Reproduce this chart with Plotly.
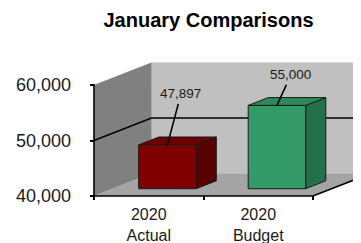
import plotly.graph_objects as go

# ---- data ----
categories = ["2020<br>Actual", "2020<br>Budget"]
values = [47897, 55000]
value_labels = ["47,897", "55,000"]
y_ticks = [40000, 50000, 60000]

# ---- pseudo-3D geometry (in axis units) ----
Y0, Y1 = 40000, 60000
DX, DY = 0.525, 4050          # depth offset of the back wall
BAR_W = 0.525
F_FRONT, F_BACK = 0.325, 0.675
FONT = "Liberation Sans, Arial, sans-serif"
PAGE_OFFSET = 8               # browser default body margin

face = dict(front=["#800000", "#339966"], top=["#6c0000", "#2c8a5a"], side=["#560000", "#23704a"])

fig = go.Figure()

def poly(xs, ys, fill, line_color=None, width=1):
    fig.add_trace(go.Scatter(
        x=xs + [xs[0]], y=ys + [ys[0]], mode="lines", fill="toself",
        fillcolor=fill,
        line=dict(color=line_color or fill, width=width if line_color else 0.1),
        hoverinfo="skip", showlegend=False))

def line(xs, ys, color="#000000", width=1.6):
    fig.add_trace(go.Scatter(x=xs, y=ys, mode="lines",
                             line=dict(color=color, width=width),
                             hoverinfo="skip", showlegend=False))

xl, xr = -0.5, len(categories) - 0.5
# back wall
poly([xl + DX, xr + DX, xr + DX, xl + DX], [Y0 + DY, Y0 + DY, Y1 + DY, Y1 + DY], "#c0c0c0")
# left wall
poly([xl, xl, xl + DX, xl + DX], [Y0, Y1, Y1 + DY, Y0 + DY], "#808080")
# floor
poly([xl, xr, xr + DX, xl + DX], [Y0, Y0, Y0 + DY, Y0 + DY], "#a4a4a4")
# gridline 50,000
line([xl, xl + DX, xr + DX], [50000, 50000 + DY, 50000 + DY])
# floor edges
line([xl, xr, xr + DX], [Y0, Y0, Y0 + DY])
# y axis line
line([xl, xl], [Y0 - 200, Y1 + 200])

# bars
for i, v in enumerate(values):
    x0 = i - BAR_W / 2
    x1 = i + BAR_W / 2
    fx, fy = F_FRONT * DX, F_FRONT * DY
    bx, by = F_BACK * DX, F_BACK * DY
    edge = "#1a1a1a"
    # side
    poly([x1 + fx, x1 + bx, x1 + bx, x1 + fx], [Y0 + fy, Y0 + by, v + by, v + fy], face["side"][i], edge, 1)
    # top
    poly([x0 + fx, x1 + fx, x1 + bx, x0 + bx], [v + fy, v + fy, v + by, v + by], face["top"][i], edge, 1)
    # front
    poly([x0 + fx, x1 + fx, x1 + fx, x0 + fx], [Y0 + fy, Y0 + fy, v + fy, v + fy], face["front"][i], edge, 1)

# data labels with leader lines
label_offsets = [(13.5, -51), (14, -30.5)]
for i, (v, txt) in enumerate(zip(values, value_labels)):
    fig.add_annotation(x=i + F_FRONT * DX, y=v + F_FRONT * DY, text=txt,
                       showarrow=True, arrowhead=0, arrowwidth=1.6, arrowcolor="#000000",
                       standoff=0, borderpad=2,
                       ax=label_offsets[i][0], ay=label_offsets[i][1],
                       font=dict(family=FONT, size=13.5, color="#1a1a1a"))

px_x = 109.5
px_y = 5.55 / 1000
xmin = -0.5 - 4 / px_x
xmax = xmin + 271 / px_x
ymin = Y0 - 4 / px_y
ymax = ymin + 145 / px_y

W, H = 361, 243
L = 90 - PAGE_OFFSET
T = 55 - PAGE_OFFSET
B = H - (200 - PAGE_OFFSET)
R = W - L - 271

fig.update_layout(
    width=W, height=H,
    margin=dict(l=L, r=R, t=T, b=B, autoexpand=False),
    paper_bgcolor="white", plot_bgcolor="white",
    title=dict(text="January Comparisons", x=(208.5 - PAGE_OFFSET) / W, xanchor="center",
               y=1 - (20 - PAGE_OFFSET) / H, yanchor="middle", yref="container",
               font=dict(family=FONT, size=20, color="#000000", weight="bold")),
    xaxis=dict(range=[xmin, xmax], showgrid=False, zeroline=False, showline=False,
               tickmode="array", tickvals=list(range(len(categories))), ticktext=categories,
               ticks="", ticklabelstandoff=3,
               tickfont=dict(family=FONT, size=16, color="#1a1a1a"),
               minor=dict(tickmode="array", tickvals=[-0.5 + k for k in range(len(categories) + 1)],
                          ticks="inside", ticklen=4, tickcolor="#000000", tickwidth=1.5)),
    yaxis=dict(range=[ymin, ymax], showgrid=False, zeroline=False, showline=False,
               tickmode="array", tickvals=y_ticks, tickformat=",",
               ticks="inside", ticklen=4, tickcolor="#000000", tickwidth=1.5,
               ticklabelstandoff=18,
               tickfont=dict(family=FONT, size=18, color="#1a1a1a")),
)

fig.write_html("out.html")
